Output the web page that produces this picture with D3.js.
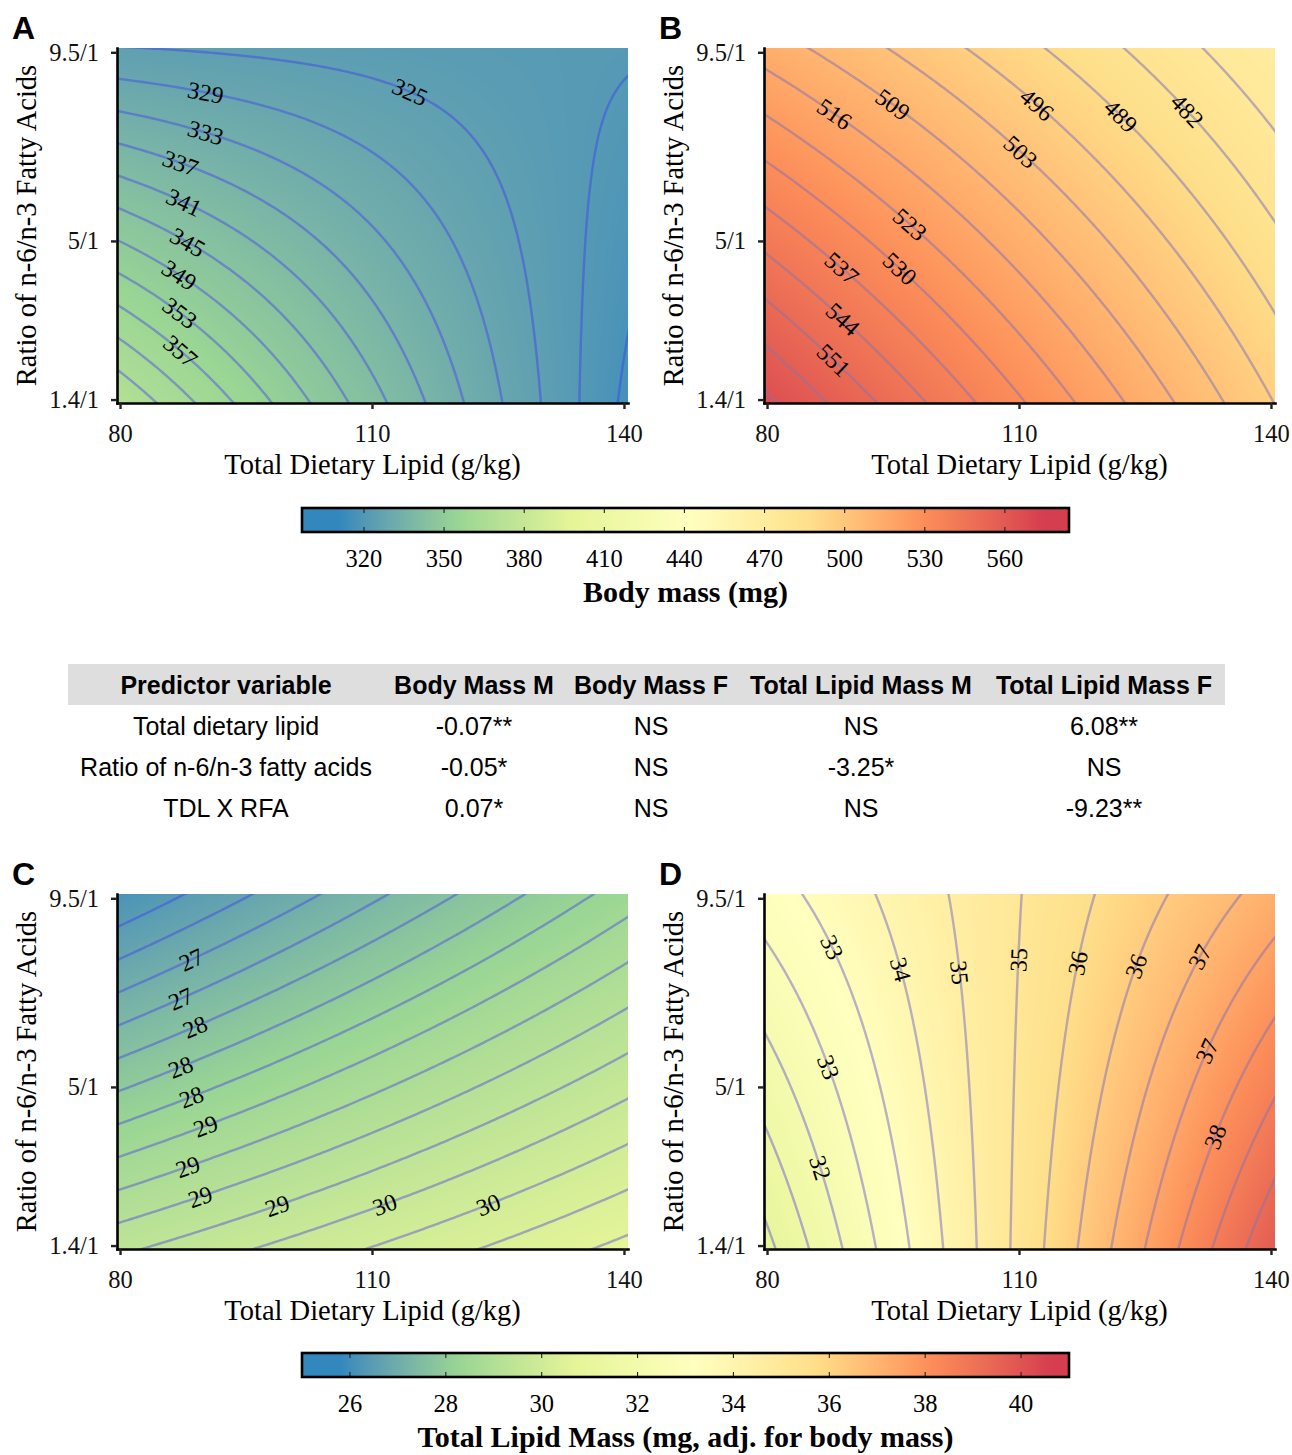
<!DOCTYPE html>
<html>
<head>
<meta charset="utf-8">
<title>Response surfaces</title>
<script src="https://cdn.jsdelivr.net/npm/d3@7"></script>
<style>
    body { margin: 0; background: #fff; }
    .serif { font-family: "Liberation Serif", "Times New Roman", serif; }
    .sans { font-family: "Liberation Sans", Arial, sans-serif; }
    .axis .domain { stroke: #000; stroke-width: 2.6; stroke-linecap: square; }
    .axis .tick line { stroke: #222; stroke-width: 2.4; }
    .axis text { font-family: "Liberation Serif", "Times New Roman", serif; font-size: 24.5px; fill: #111; }
</style>
</head>
<body>
<script>
    // Axes of every panel
    const tdlNodes = [80, 110, 140];          // total dietary lipid (g/kg)
    const rfaNodes = [9.5, 5.45, 1.4];        // n-6/n-3 ratio, top row first
    const tdlTicks = [80, 110, 140];
    const rfaTicks = [1.4, 5.1, 9.5];
    const rfaTickLabels = ["1.4/1", "5/1", "9.5/1"];

    // Fitted surfaces (rows follow rfaNodes, columns tdlNodes)
    const bodyMassMale   = [[325.7, 323.6, 321.4], [347.1, 333.0, 318.9], [368.4, 342.4, 316.4]];
    const bodyMassFemale = [[513.7, 491.5, 469.3], [539.7, 511.1, 482.6], [565.6, 530.7, 495.8]];
    const lipidMassMale  = [[26.20, 27.31, 28.41], [27.78, 28.67, 29.56], [29.36, 30.04, 30.71]];
    const lipidMassFemale = [[33.03, 35.09, 37.15], [31.94, 35.17, 38.41], [30.85, 35.26, 39.66]];

    // Contour levels
    const levelsA = [317, 321, 325, 329, 333, 337, 341, 345, 349, 353, 357, 361, 365];
    const levelsB = [474.95, 481.85, 488.75, 495.65, 502.55, 509.45, 516.35, 523.25, 530.15, 537.05, 543.95, 550.85, 557.75, 564.65];
    const levelsC = [26.45, 26.75, 27.05, 27.35, 27.65, 27.95, 28.25, 28.55, 28.85, 29.15, 29.45, 29.75, 30.05, 30.35, 30.65];
    const levelsD = [30.98, 31.57, 32.16, 32.75, 33.34, 33.93, 34.52, 35.11, 35.70, 36.29, 36.88, 37.47, 38.06, 38.65, 39.24];

    // Contour labels: [level, tdl, ratio] roughly where each one sits
    const labelsA = [[325, 114.5, 8.51], [329, 90.2, 8.55], [333, 90.1, 7.58], [337, 87.1, 6.88], [341, 87.4, 5.98],
                     [345, 88.0, 5.08], [349, 86.9, 4.27], [353, 86.9, 3.37], [357, 87.1, 2.51]];
    const labelsB = [[516.35, 87.7, 7.97], [509.45, 95.0, 8.24], [502.55, 109.9, 7.19], [495.65, 111.9, 8.24],
                     [488.75, 121.9, 8.0], [481.85, 129.9, 8.12], [523.25, 96.7, 5.36], [530.15, 95.9, 4.42],
                     [537.05, 88.9, 4.5], [543.95, 88.7, 3.21], [550.85, 87.9, 2.32]];
    const labelsC = [[27.05, 88.6, 8.08], [27.35, 87.4, 7.14], [27.65, 88.8, 6.44], [27.95, 87.4, 5.51],
                     [28.25, 88.6, 4.81], [28.55, 90.1, 4.15], [28.85, 88.2, 3.21], [29.15, 89.6, 2.55],
                     [29.45, 98.9, 2.36], [29.75, 111.5, 2.36], [30.05, 123.9, 2.36]];
    const labelsD = [[32.16, 86.5, 3.25], [32.75, 87.5, 5.59], [33.34, 88.0, 8.39], [33.93, 95.5, 7.8],
                     [34.52, 102.6, 7.76], [35.11, 110.1, 8.08], [35.70, 117.0, 7.96], [36.29, 124.0, 7.92],
                     [36.88, 131.4, 8.11], [37.47, 132.3, 5.97], [38.06, 133.6, 3.95]];

    // Colour bars: extent of the bar, and the span over which the palette runs
    const massLimits = [296.8, 584];
    const massPalette = [311, 574];
    const massTicks = [320, 350, 380, 410, 440, 470, 500, 530, 560];
    const lipidLimits = [25, 41];
    const lipidPalette = [25.8, 40.6];
    const lipidTicks = [26, 28, 30, 32, 34, 36, 38, 40];
    const spectral = ["#3288BD", "#99D594", "#E6F598", "#FFFFBF", "#FEE08B", "#FC8D59", "#D53E4F"];

    // Table
    const tableHeader = ["Predictor variable", "Body Mass M", "Body Mass F", "Total Lipid Mass M", "Total Lipid Mass F"];
    const predictors = ["Total dietary lipid", "Ratio of n-6/n-3 fatty acids", "TDL X RFA"];
    const coefBodyMassM = ["-0.07**", "-0.05*", "0.07*"];
    const coefBodyMassF = ["NS", "NS", "NS"];
    const coefLipidMassM = ["NS", "-3.25*", "NS"];
    const coefLipidMassF = ["6.08**", "NS", "-9.23**"];

    // ---- layout
    const plotW = 511, plotH = 355;
    const tdlDomain = [79.64, 140.48];
    const rfaDomain = [1.32, 9.6];

    const svg = d3.select("body").append("svg").attr("width", 1292).attr("height", 1455);
    const defs = svg.append("defs");

    function fillScale(span) {
        const step = (span[1] - span[0]) / (spectral.length - 1);
        return d3.scaleLinear()
            .domain(spectral.map((c, i) => span[0] + i * step))
            .range(spectral)
            .interpolate(d3.interpolateLab)
            .clamp(true);
    }

    function lineScale(limits) {
        return d3.scaleLinear().domain(limits).range(["#2f40f0", "#857aa8"]).interpolate(d3.interpolateLab);
    }

    function lagrange(nodes, t) {
        return nodes.map((n, i) => nodes.reduce((w, m, j) => j === i ? w : w * (t - m) / (n - m), 1));
    }

    function surface(grid) {
        return (tdl, rfa) => {
            const wx = lagrange(tdlNodes, tdl), wy = lagrange(rfaNodes, rfa);
            let z = 0;
            for (let i = 0; i < 3; i++)
                for (let j = 0; j < 3; j++) z += wy[i] * wx[j] * grid[i][j];
            return z;
        };
    }

    const panels = [
        { id: "A", grid: bodyMassMale, levels: levelsA, labels: labelsA, limits: massLimits, span: massPalette, left: 117, top: 48 },
        { id: "B", grid: bodyMassFemale, levels: levelsB, labels: labelsB, limits: massLimits, span: massPalette, left: 764, top: 48 },
        { id: "C", grid: lipidMassMale, levels: levelsC, labels: labelsC, limits: lipidLimits, span: lipidPalette, left: 117, top: 894 },
        { id: "D", grid: lipidMassFemale, levels: levelsD, labels: labelsD, limits: lipidLimits, span: lipidPalette, left: 764, top: 894 }
    ];

    panels.forEach(drawPanel);

    function drawPanel(p) {
        const x0 = p.left, y0 = p.top;
        const x = d3.scaleLinear().domain(tdlDomain).range([x0, x0 + plotW]);
        const y = d3.scaleLinear().domain(rfaDomain).range([y0 + plotH, y0]);
        const f = surface(p.grid);
        const fill = fillScale(p.span);
        const lineColour = lineScale(p.limits);

        // raster
        const canvas = document.createElement("canvas");
        canvas.width = plotW;
        canvas.height = plotH;
        const ctx = canvas.getContext("2d");
        const img = ctx.createImageData(plotW, plotH);
        for (let j = 0; j < plotH; j++) {
            const rfa = y.invert(y0 + j + 0.5);
            for (let i = 0; i < plotW; i++) {
                const c = d3.rgb(fill(f(x.invert(x0 + i + 0.5), rfa)));
                const k = 4 * (j * plotW + i);
                img.data[k] = c.r; img.data[k + 1] = c.g; img.data[k + 2] = c.b; img.data[k + 3] = 255;
            }
        }
        ctx.putImageData(img, 0, 0);
        svg.append("image")
            .attr("x", x0).attr("y", y0)
            .attr("width", plotW).attr("height", plotH)
            .attr("preserveAspectRatio", "none")
            .attr("href", canvas.toDataURL());

        // contours on a grid a little larger than the panel, clipped back to it
        const nx = 170, ny = 130, gx = [74, 146], gy = [0.7, 10.2];
        const sx = (gx[1] - gx[0]) / (nx - 1), sy = (gy[1] - gy[0]) / (ny - 1);
        const values = [];
        for (let j = 0; j < ny; j++)
            for (let i = 0; i < nx; i++) values.push(f(gx[0] + i * sx, gy[0] + j * sy));
        const toPx = (a, b) => [x(gx[0] + (a - 0.5) * sx), y(gy[0] + (b - 0.5) * sy)];
        const proj = d3.geoTransform({
            point(a, b) { const q = toPx(a, b); this.stream.point(q[0], q[1]); }
        });
        const path = d3.geoPath(proj);
        const contours = d3.contours().size([nx, ny]).thresholds(p.levels)(values);

        defs.append("clipPath").attr("id", "clip" + p.id)
            .append("rect").attr("x", x0).attr("y", y0).attr("width", plotW).attr("height", plotH);

        svg.append("g")
            .attr("clip-path", "url(#clip" + p.id + ")")
            .selectAll("path")
            .data(contours)
            .join("path")
            .attr("d", path)
            .attr("fill", "none")
            .attr("stroke", d => lineColour(d.value))
            .attr("stroke-opacity", 0.48)
            .attr("stroke-width", 2.4);

        // contour labels, snapped onto their line
        const fmt = d3.format(".0f");
        const labelG = svg.append("g").attr("class", "serif").style("font-size", "24px");
        p.labels.forEach(([lev, tx, ty]) => {
            const c = contours.find(d => Math.abs(d.value - lev) < 1e-6);
            const ax = x(tx), ay = y(ty);
            let best = null;
            c.coordinates.forEach(poly => poly.forEach(ring => {
                const pts = ring.map(q => toPx(q[0], q[1]));
                pts.forEach((q, k) => {
                    if (q[0] < x0 + 4 || q[0] > x0 + plotW - 4 || q[1] < y0 + 4 || q[1] > y0 + plotH - 4) return;
                    const dd = (q[0] - ax) ** 2 + (q[1] - ay) ** 2;
                    if (!best || dd < best.d) {
                        const a = pts[(k - 1 + pts.length) % pts.length], b = pts[(k + 1) % pts.length];
                        best = { d: dd, q: q, ang: Math.atan2(b[1] - a[1], b[0] - a[0]) * 180 / Math.PI };
                    }
                });
            }));
            if (!best) return;
            let ang = best.ang;
            if (ang > 90) ang -= 180;
            if (ang <= -90) ang += 180;
            labelG.append("text")
                .attr("transform", "translate(" + best.q[0] + "," + best.q[1] + ") rotate(" + ang + ")")
                .attr("text-anchor", "middle")
                .attr("dy", "0.35em")
                .text(fmt(lev));
        });

        // axes
        const gxAxis = svg.append("g").attr("class", "axis")
            .attr("transform", "translate(0," + (y0 + plotH) + ")")
            .call(d3.axisBottom(x).tickValues(tdlTicks).tickSize(6).tickSizeOuter(0).tickFormat(d3.format("d")));
        gxAxis.selectAll("text").attr("y", 39).attr("dy", null);

        svg.append("g").attr("class", "axis")
            .attr("transform", "translate(" + x0 + ",0)")
            .call(d3.axisLeft(y).tickValues(rfaTicks).tickSize(6).tickSizeOuter(0).tickPadding(12)
                .tickFormat((d, i) => rfaTickLabels[i]));

        svg.selectAll(".axis text").attr("fill", "#111");

        // titles
        svg.append("text")
            .attr("class", "serif")
            .attr("x", x0 + plotW / 2).attr("y", y0 + plotH + 71)
            .attr("text-anchor", "middle")
            .style("font-size", "28.5px")
            .text("Total Dietary Lipid (g/kg)");

        svg.append("text")
            .attr("class", "serif")
            .attr("transform", "translate(" + (x0 - 81) + "," + (y0 + plotH / 2) + ") rotate(-90)")
            .attr("text-anchor", "middle")
            .style("font-size", "28.5px")
            .text("Ratio of n-6/n-3 Fatty Acids");

        svg.append("text")
            .attr("class", "sans")
            .attr("x", x0 - 105).attr("y", y0 - 9)
            .style("font-size", "32px").style("font-weight", "bold")
            .text(p.id);
    }

    // ---- colour bars
    drawColourbar("barMass", 508, massLimits, massPalette, massTicks, "Body mass (mg)");
    drawColourbar("barLipid", 1353, lipidLimits, lipidPalette, lipidTicks, "Total Lipid Mass (mg, adj. for body mass)");

    function drawColourbar(id, top, limits, span, ticks, title) {
        const left = 302, w = 767, h = 24;
        const x = d3.scaleLinear().domain(limits).range([left, left + w]);
        const fill = fillScale(span);
        const grad = defs.append("linearGradient").attr("id", id).attr("x1", "0%").attr("x2", "100%");
        d3.range(0, 1.0001, 0.01).forEach(t => {
            grad.append("stop").attr("offset", t).attr("stop-color", fill(limits[0] + t * (limits[1] - limits[0])));
        });
        svg.append("rect").attr("x", left).attr("y", top).attr("width", w).attr("height", h)
            .attr("fill", "url(#" + id + ")");

        const g = svg.append("g");
        g.selectAll("line.top").data(ticks).join("line").attr("class", "top")
            .attr("x1", d => x(d)).attr("x2", d => x(d)).attr("y1", top).attr("y2", top + 5)
            .attr("stroke", "#222").attr("stroke-width", 1.1);
        g.selectAll("line.bot").data(ticks).join("line").attr("class", "bot")
            .attr("x1", d => x(d)).attr("x2", d => x(d)).attr("y1", top + h - 5).attr("y2", top + h)
            .attr("stroke", "#222").attr("stroke-width", 1.1);

        svg.append("rect").attr("x", left).attr("y", top).attr("width", w).attr("height", h)
            .attr("fill", "none").attr("stroke", "#000").attr("stroke-width", 2.6);

        g.selectAll("text").data(ticks).join("text")
            .attr("class", "serif")
            .attr("x", d => x(d)).attr("y", top + 59)
            .attr("text-anchor", "middle")
            .style("font-size", "24.5px")
            .text(d => d);

        svg.append("text")
            .attr("class", "serif")
            .attr("x", left + w / 2).attr("y", top + 94)
            .attr("text-anchor", "middle")
            .style("font-size", "30px").style("font-weight", "bold")
            .text(title);
    }

    // ---- table
    const colX = [226, 474, 651, 861, 1104];
    const rowY = [735, 776, 817];
    const columns = [predictors, coefBodyMassM, coefBodyMassF, coefLipidMassM, coefLipidMassF];

    svg.append("rect").attr("x", 68).attr("y", 664).attr("width", 1157).attr("height", 41).attr("fill", "#dedede");

    svg.append("g").selectAll("text").data(tableHeader).join("text")
        .attr("class", "sans")
        .attr("x", (d, i) => colX[i]).attr("y", 694)
        .attr("text-anchor", "middle")
        .style("font-size", "25px").style("font-weight", "bold")
        .text(d => d);

    columns.forEach((col, c) => {
        svg.append("g").selectAll("text").data(col).join("text")
            .attr("class", "sans")
            .attr("x", colX[c]).attr("y", (d, r) => rowY[r])
            .attr("text-anchor", "middle")
            .style("font-size", "25px")
            .text(d => d);
    });
</script>
</body>
</html>
